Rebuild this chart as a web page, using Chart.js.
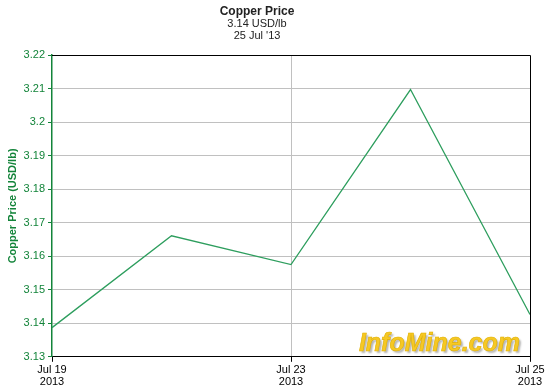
<!DOCTYPE html>
<html>
<head>
<meta charset="utf-8">
<script src="https://cdn.jsdelivr.net/npm/chart.js@4/dist/chart.umd.min.js"></script>
<style>
  html, body { margin: 0; padding: 0; background: #fff; }
  #wrap { width: 552px; height: 390px; }
</style>
</head>
<body>
<div id="wrap"><canvas id="chart"></canvas></div>
<script>
// trading days shown on the chart
const days = [["Jul 19", "2013"], ["Jul 22", "2013"], ["Jul 23", "2013"], ["Jul 24", "2013"], ["Jul 25", "2013"]];
const labelled = [0, 2, 4]; // only these get a tick label
const price = [3.1387, 3.1661, 3.1575, 3.2097, 3.1426];
const header = ["Copper Price", "3.14 USD/lb", "25 Jul '13"];

const FONT = "'Liberation Sans', Arial, sans-serif";
const GREEN = "#13843a";
const LINE = "#2e9e5e";
const GRID = "#c0c0c0";

// header text, black top/right frame, watermark
const decor = {
  id: "decor",
  afterDraw(chart) {
    const { ctx, chartArea: a } = chart;
    ctx.save();

    ctx.fillStyle = "#222";
    ctx.textAlign = "center";
    ctx.textBaseline = "middle";
    ctx.font = "bold 12px " + FONT;
    ctx.fillText(header[0], 257, 12);
    ctx.font = "11px " + FONT;
    ctx.fillText(header[1], 257, 24);
    ctx.fillText(header[2], 257, 36);

    ctx.strokeStyle = "#000";
    ctx.lineWidth = 1;
    ctx.beginPath();
    ctx.moveTo(a.left, a.top + 0.5);
    ctx.lineTo(a.right + 0.5, a.top + 0.5);
    ctx.lineTo(a.right + 0.5, a.bottom);
    ctx.stroke();

    ctx.font = "italic bold 25px " + FONT;
    ctx.textAlign = "right";
    ctx.textBaseline = "alphabetic";
    ctx.shadowColor = "rgba(0,0,0,0.3)";
    ctx.shadowOffsetX = 2;
    ctx.shadowOffsetY = 2;
    ctx.shadowBlur = 2;
    ctx.fillStyle = "#f6c824";
    ctx.fillText("InfoMine.com", a.right - 10, a.bottom - 6);
    ctx.shadowColor = "transparent";
    ctx.strokeStyle = "#e0b000";
    ctx.lineWidth = 0.6;
    ctx.strokeText("InfoMine.com", a.right - 10, a.bottom - 6);
    ctx.restore();
  },
};

new Chart(document.getElementById("chart"), {
  type: "line",
  data: {
    labels: days,
    datasets: [{
      data: price,
      borderColor: LINE,
      borderWidth: 1.3,
      pointRadius: 0,
      tension: 0,
    }],
  },
  options: {
    animation: false,
    responsive: true,
    maintainAspectRatio: false,
    layout: { padding: { left: 6, right: 22, top: 55, bottom: 0 } },
    plugins: {
      legend: { display: false },
      tooltip: { enabled: false },
    },
    scales: {
      x: {
        type: "category",
        offset: false,
        border: { color: "#000", width: 1 },
        grid: {
          color: (c) => (c.index === 2 ? GRID : "transparent"),
          tickColor: (c) => (labelled.includes(c.index) ? "#000" : "transparent"),
          tickLength: 5,
        },
        ticks: {
          autoSkip: false,
          maxRotation: 0,
          color: "#000",
          padding: 2,
          font: { family: FONT, size: 11, lineHeight: 1.1 },
          callback: (v, i) => (labelled.includes(i) ? days[i] : ""),
        },
      },
      y: {
        min: 3.13,
        max: 3.22,
        afterFit: (s) => { s.width = 46; },
        border: { color: GREEN, width: 1.5 },
        grid: {
          color: (c) => (c.index === 0 || c.index === 9 ? "transparent" : GRID),
          tickColor: GREEN,
          tickLength: 4,
        },
        title: {
          display: true,
          text: "Copper Price (USD/lb)",
          color: GREEN,
          padding: { top: 0, bottom: 2 },
          font: { family: FONT, size: 11, weight: "bold" },
        },
        ticks: {
          stepSize: 0.01,
          color: GREEN,
          padding: 3,
          font: { family: FONT, size: 11 },
          callback: (v) => String(Math.round(v * 100) / 100),
        },
      },
    },
  },
  plugins: [decor],
});
</script>
</body>
</html>
